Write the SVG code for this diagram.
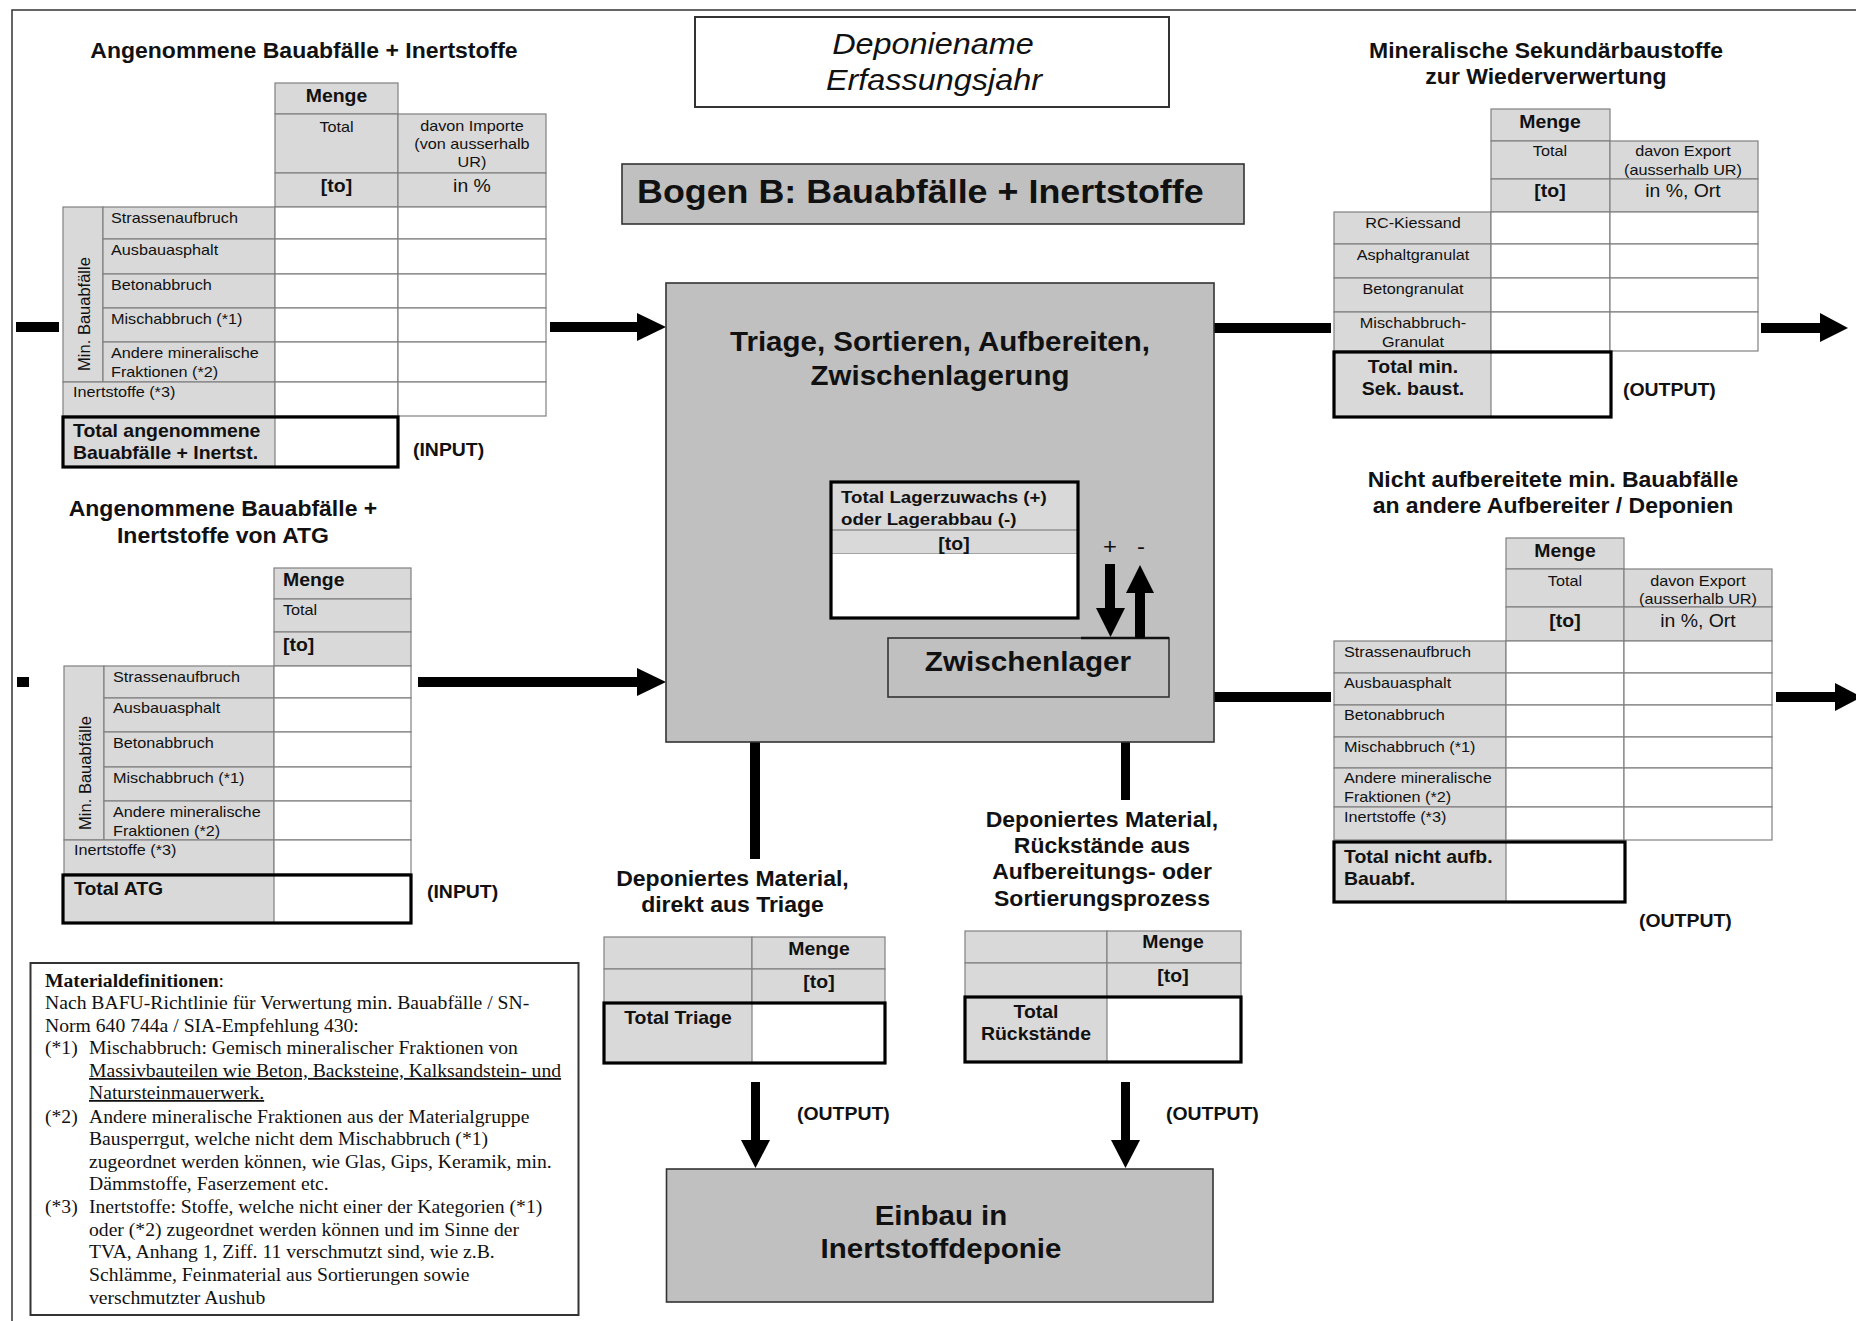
<svg xmlns="http://www.w3.org/2000/svg" width="1856" height="1321" viewBox="0 0 1856 1321">
  <style>
    text { font-family: "Liberation Sans", Arial, sans-serif; fill: #111; }
    text:not(.v) { transform-box: fill-box; transform-origin: 0 0; transform: scaleX(1.08); }
    text.c { text-anchor: middle; transform-origin: 50% 0; }
    .h { font-size: 21.3px; font-weight: bold; }
    .b { font-size: 18px; font-weight: bold; }
    .s { font-size: 15px; }
    .m { font-size: 18px; }
    .u { font-size: 20px; }
    .v { font-size: 16.5px; text-anchor: middle; }
    .big { font-size: 27.3px; font-weight: bold; }
    .serif { font-family: "Liberation Serif", "Times New Roman", serif; font-size: 18.2px; }
    .g { fill: #d9d9d9; stroke: #808080; stroke-width: 1.2; }
    .w { fill: #ffffff; stroke: #808080; stroke-width: 1.2; }
    .gn { fill: #d9d9d9; }
    .k { fill: none; stroke: #000; stroke-width: 3.2; }
    .proc { fill: #c0c0c0; stroke: #333; stroke-width: 1.6; }
    .flow { fill: #000; stroke: none; }
  </style>

  <!-- page frame -->
  <g id="frame" fill="none" stroke="#333" stroke-width="1.5">
    <path d="M12 1321 V10 H1856"/>
  </g>

  <!-- header -->
  <g id="title-box">
    <rect x="695" y="17" width="474" height="90" fill="#fff" stroke="#333" stroke-width="2"/>
    <text class="c" x="933" y="54" style="font-size:30px;font-style:italic">Deponiename</text>
    <text class="c" x="934" y="90" style="font-size:30px;font-style:italic">Erfassungsjahr</text>
  </g>
  <g id="sheet-title">
    <rect class="proc" x="622" y="164" width="622" height="60"/>
    <text x="637" y="203" style="font-size:33.2px;font-weight:bold">Bogen B: Bauabfälle + Inertstoffe</text>
  </g>

  <!-- connectors -->
  <g id="connectors" class="flow">
    <rect x="16" y="322" width="43" height="10"/>
    <rect x="550" y="322" width="90" height="10"/>
    <polygon points="637,313 666,327 637,341"/>
    <rect x="17" y="677" width="12" height="10"/>
    <rect x="418" y="677" width="222" height="10"/>
    <polygon points="637,668 666,682 637,696"/>
    <rect x="1214" y="323" width="117" height="10"/>
    <rect x="1761" y="323" width="61" height="10"/>
    <polygon points="1820,313 1848,328 1820,342"/>
    <rect x="1214" y="692" width="117" height="10"/>
    <rect x="1776" y="692" width="61" height="10"/>
    <polygon points="1835,683 1862,697 1835,711"/>
    <rect x="750" y="742" width="10" height="117"/>
    <rect x="1121" y="742" width="9" height="58"/>
    <rect x="751" y="1082" width="9" height="60"/>
    <polygon points="741,1140 770,1140 755.5,1168"/>
    <rect x="1121" y="1082" width="9" height="60"/>
    <polygon points="1111,1140 1140,1140 1125.5,1168"/>
  </g>

  <!-- accepted construction waste -->
  <g id="t-input">
    <text class="h c" x="304" y="58">Angenommene Bauabfälle + Inertstoffe</text>
    <rect class="g" x="275" y="83" width="123" height="31"/>
    <rect class="g" x="275" y="114" width="123" height="59"/>
    <rect class="g" x="398" y="114" width="148" height="59"/>
    <rect class="g" x="275" y="173" width="123" height="34"/>
    <rect class="g" x="398" y="173" width="148" height="34"/>
    <rect class="g" x="63" y="207" width="40" height="175"/>
    <rect class="g" x="103" y="207" width="172" height="32"/>
    <rect class="g" x="103" y="239" width="172" height="35"/>
    <rect class="g" x="103" y="274" width="172" height="34"/>
    <rect class="g" x="103" y="308" width="172" height="34"/>
    <rect class="g" x="103" y="342" width="172" height="40"/>
    <rect class="g" x="63" y="382" width="212" height="34"/>
    <rect class="w" x="275" y="207" width="123" height="32"/><rect class="w" x="398" y="207" width="148" height="32"/>
    <rect class="w" x="275" y="239" width="123" height="35"/><rect class="w" x="398" y="239" width="148" height="35"/>
    <rect class="w" x="275" y="274" width="123" height="34"/><rect class="w" x="398" y="274" width="148" height="34"/>
    <rect class="w" x="275" y="308" width="123" height="34"/><rect class="w" x="398" y="308" width="148" height="34"/>
    <rect class="w" x="275" y="342" width="123" height="40"/><rect class="w" x="398" y="342" width="148" height="40"/>
    <rect class="w" x="275" y="382" width="123" height="34"/><rect class="w" x="398" y="382" width="148" height="34"/>
    <rect class="gn" x="63" y="417" width="212" height="50"/>
    <rect class="w" x="275" y="417" width="123" height="50"/>
    <rect class="k" x="63" y="417" width="335" height="50"/>
    <text class="b c" x="336.5" y="102">Menge</text>
    <text class="s c" x="336.5" y="132">Total</text>
    <text class="s c" x="472" y="131">davon Importe</text>
    <text class="s c" x="472" y="149">(von ausserhalb</text>
    <text class="s c" x="472" y="167">UR)</text>
    <text class="b c" x="336.5" y="192">[to]</text>
    <text class="m c" x="472" y="192">in %</text>
    <text class="s" x="111" y="223">Strassenaufbruch</text>
    <text class="s" x="111" y="255">Ausbauasphalt</text>
    <text class="s" x="111" y="290">Betonabbruch</text>
    <text class="s" x="111" y="324">Mischabbruch (*1)</text>
    <text class="s" x="111" y="358">Andere mineralische</text>
    <text class="s" x="111" y="377">Fraktionen (*2)</text>
    <text class="s" x="73" y="397">Inertstoffe (*3)</text>
    <text class="v" transform="translate(90,314) rotate(-90)">Min. Bauabfälle</text>
    <text class="b" x="73" y="437">Total angenommene</text>
    <text class="b" x="73" y="459">Bauabfälle + Inertst.</text>
    <text class="b" x="413" y="456">(INPUT)</text>
  </g>

  <!-- accepted from ATG -->
  <g id="t-atg">
    <text class="h c" x="223" y="516">Angenommene Bauabfälle +</text>
    <text class="h c" x="223" y="543">Inertstoffe von ATG</text>
    <rect class="g" x="274" y="568" width="137" height="31"/>
    <rect class="g" x="274" y="599" width="137" height="33"/>
    <rect class="g" x="274" y="632" width="137" height="34"/>
    <rect class="g" x="64" y="666" width="40" height="174"/>
    <rect class="g" x="104" y="666" width="170" height="32"/>
    <rect class="g" x="104" y="698" width="170" height="34"/>
    <rect class="g" x="104" y="732" width="170" height="35"/>
    <rect class="g" x="104" y="767" width="170" height="34"/>
    <rect class="g" x="104" y="801" width="170" height="39"/>
    <rect class="g" x="64" y="840" width="210" height="34"/>
    <rect class="w" x="274" y="666" width="137" height="32"/>
    <rect class="w" x="274" y="698" width="137" height="34"/>
    <rect class="w" x="274" y="732" width="137" height="35"/>
    <rect class="w" x="274" y="767" width="137" height="34"/>
    <rect class="w" x="274" y="801" width="137" height="39"/>
    <rect class="w" x="274" y="840" width="137" height="34"/>
    <rect class="gn" x="63" y="875" width="211" height="48"/>
    <rect class="w" x="274" y="875" width="137" height="48"/>
    <rect class="k" x="63" y="875" width="348" height="48"/>
    <text class="b" x="283" y="586">Menge</text>
    <text class="s" x="283" y="615">Total</text>
    <text class="b" x="283" y="651">[to]</text>
    <text class="s" x="113" y="682">Strassenaufbruch</text>
    <text class="s" x="113" y="713">Ausbauasphalt</text>
    <text class="s" x="113" y="748">Betonabbruch</text>
    <text class="s" x="113" y="783">Mischabbruch (*1)</text>
    <text class="s" x="113" y="817">Andere mineralische</text>
    <text class="s" x="113" y="836">Fraktionen (*2)</text>
    <text class="s" x="74" y="855">Inertstoffe (*3)</text>
    <text class="v" transform="translate(91,773) rotate(-90)">Min. Bauabfälle</text>
    <text class="b" x="74" y="895">Total ATG</text>
    <text class="b" x="427" y="898">(INPUT)</text>
  </g>

  <!-- central process -->
  <g id="process">
    <rect class="proc" x="666" y="283" width="548" height="459"/>
    <text class="big c" x="940" y="351">Triage, Sortieren, Aufbereiten,</text>
    <text class="big c" x="940" y="385">Zwischenlagerung</text>
  </g>
  <g id="stock-change">
    <rect class="gn" x="831" y="482" width="247" height="48"/>
    <rect x="831" y="530" width="247" height="24" fill="#d9d9d9" stroke="#808080" stroke-width="1.2"/>
    <rect x="831" y="554" width="247" height="64" fill="#fff"/>
    <rect class="k" x="831" y="482" width="247" height="136"/>
    <text x="841" y="503" style="font-size:17.3px;font-weight:bold">Total Lagerzuwachs (+)</text>
    <text x="841" y="525" style="font-size:17.3px;font-weight:bold">oder Lagerabbau (-)</text>
    <text class="b c" x="954" y="550">[to]</text>
  </g>
  <g id="storage">
    <rect class="proc" x="888" y="638" width="281" height="59"/>
    <line x1="1081" y1="638" x2="1169" y2="638" stroke="#111" stroke-width="2.4"/>
    <text class="c" x="1028" y="671" style="font-size:27.5px;font-weight:bold">Zwischenlager</text>
  </g>
  <g id="storage-flows" class="flow">
    <rect x="1105" y="564" width="10" height="46"/>
    <polygon points="1096,608 1125,608 1110.5,637"/>
    <rect x="1135" y="591" width="10" height="47"/>
    <polygon points="1126,593 1154,593 1140,565"/>
    <text class="u c" x="1110" y="554" style="font-size:22px">+</text>
    <text class="u c" x="1141" y="554" style="font-size:22px">-</text>
  </g>

  <!-- secondary building materials -->
  <g id="t-secondary">
    <text class="h c" x="1546" y="58">Mineralische Sekundärbaustoffe</text>
    <text class="h c" x="1546" y="84">zur Wiederverwertung</text>
    <rect class="g" x="1491" y="109" width="119" height="32"/>
    <rect class="g" x="1491" y="141" width="119" height="38"/>
    <rect class="g" x="1610" y="141" width="148" height="38"/>
    <rect class="g" x="1491" y="179" width="119" height="33"/>
    <rect class="g" x="1610" y="179" width="148" height="33"/>
    <rect class="g" x="1334" y="212" width="157" height="32"/>
    <rect class="g" x="1334" y="244" width="157" height="34"/>
    <rect class="g" x="1334" y="278" width="157" height="34"/>
    <rect class="g" x="1334" y="312" width="157" height="39"/>
    <rect class="w" x="1491" y="212" width="119" height="32"/><rect class="w" x="1610" y="212" width="148" height="32"/>
    <rect class="w" x="1491" y="244" width="119" height="34"/><rect class="w" x="1610" y="244" width="148" height="34"/>
    <rect class="w" x="1491" y="278" width="119" height="34"/><rect class="w" x="1610" y="278" width="148" height="34"/>
    <rect class="w" x="1491" y="312" width="119" height="39"/><rect class="w" x="1610" y="312" width="148" height="39"/>
    <rect class="gn" x="1334" y="352" width="157" height="65"/>
    <rect class="w" x="1491" y="352" width="120" height="65"/>
    <rect class="k" x="1334" y="352" width="277" height="65"/>
    <text class="b c" x="1550" y="128">Menge</text>
    <text class="s c" x="1550" y="156">Total</text>
    <text class="s c" x="1683" y="156">davon Export</text>
    <text class="s c" x="1683" y="175">(ausserhalb UR)</text>
    <text class="b c" x="1550" y="197">[to]</text>
    <text class="m c" x="1683" y="197">in %, Ort</text>
    <text class="s c" x="1413" y="228">RC-Kiessand</text>
    <text class="s c" x="1413" y="260">Asphaltgranulat</text>
    <text class="s c" x="1413" y="294">Betongranulat</text>
    <text class="s c" x="1413" y="328">Mischabbruch-</text>
    <text class="s c" x="1413" y="347">Granulat</text>
    <text class="b c" x="1413" y="373">Total min.</text>
    <text class="b c" x="1413" y="395">Sek. baust.</text>
    <text class="b" x="1623" y="396">(OUTPUT)</text>
  </g>

  <!-- waste passed on unprocessed -->
  <g id="t-unprocessed">
    <text class="h c" x="1553" y="487">Nicht aufbereitete min. Bauabfälle</text>
    <text class="h c" x="1553" y="513">an andere Aufbereiter / Deponien</text>
    <rect class="g" x="1506" y="538" width="118" height="31"/>
    <rect class="g" x="1506" y="569" width="118" height="38"/>
    <rect class="g" x="1624" y="569" width="148" height="38"/>
    <rect class="g" x="1506" y="607" width="118" height="34"/>
    <rect class="g" x="1624" y="607" width="148" height="34"/>
    <rect class="g" x="1334" y="641" width="172" height="32"/>
    <rect class="g" x="1334" y="673" width="172" height="32"/>
    <rect class="g" x="1334" y="705" width="172" height="32"/>
    <rect class="g" x="1334" y="737" width="172" height="31"/>
    <rect class="g" x="1334" y="768" width="172" height="39"/>
    <rect class="g" x="1334" y="807" width="172" height="33"/>
    <rect class="w" x="1506" y="641" width="118" height="32"/><rect class="w" x="1624" y="641" width="148" height="32"/>
    <rect class="w" x="1506" y="673" width="118" height="32"/><rect class="w" x="1624" y="673" width="148" height="32"/>
    <rect class="w" x="1506" y="705" width="118" height="32"/><rect class="w" x="1624" y="705" width="148" height="32"/>
    <rect class="w" x="1506" y="737" width="118" height="31"/><rect class="w" x="1624" y="737" width="148" height="31"/>
    <rect class="w" x="1506" y="768" width="118" height="39"/><rect class="w" x="1624" y="768" width="148" height="39"/>
    <rect class="w" x="1506" y="807" width="118" height="33"/><rect class="w" x="1624" y="807" width="148" height="33"/>
    <rect class="gn" x="1334" y="842" width="172" height="60"/>
    <rect class="w" x="1506" y="842" width="119" height="60"/>
    <rect class="k" x="1334" y="842" width="291" height="60"/>
    <text class="b c" x="1565" y="557">Menge</text>
    <text class="s c" x="1565" y="586">Total</text>
    <text class="s c" x="1698" y="586">davon Export</text>
    <text class="s c" x="1698" y="604">(ausserhalb UR)</text>
    <text class="b c" x="1565" y="627">[to]</text>
    <text class="m c" x="1698" y="627">in %, Ort</text>
    <text class="s" x="1344" y="657">Strassenaufbruch</text>
    <text class="s" x="1344" y="688">Ausbauasphalt</text>
    <text class="s" x="1344" y="720">Betonabbruch</text>
    <text class="s" x="1344" y="752">Mischabbruch (*1)</text>
    <text class="s" x="1344" y="783">Andere mineralische</text>
    <text class="s" x="1344" y="802">Fraktionen (*2)</text>
    <text class="s" x="1344" y="822">Inertstoffe (*3)</text>
    <text class="b" x="1344" y="863">Total nicht aufb.</text>
    <text class="b" x="1344" y="885">Bauabf.</text>
    <text class="b" x="1639" y="927">(OUTPUT)</text>
  </g>

  <!-- deposited directly from sorting -->
  <g id="t-triage">
    <text class="h c" x="732.5" y="886">Deponiertes Material,</text>
    <text class="h c" x="732.5" y="912">direkt aus Triage</text>
    <rect class="g" x="604" y="937" width="148" height="32"/>
    <rect class="g" x="752" y="937" width="133" height="32"/>
    <rect class="g" x="604" y="969" width="148" height="34"/>
    <rect class="g" x="752" y="969" width="133" height="34"/>
    <rect class="gn" x="604" y="1003" width="148" height="60"/>
    <rect class="w" x="752" y="1003" width="133" height="60"/>
    <rect class="k" x="604" y="1003" width="281" height="60"/>
    <text class="b c" x="819" y="955">Menge</text>
    <text class="b c" x="819" y="988">[to]</text>
    <text class="b c" x="678" y="1024">Total Triage</text>
    <text class="b" x="797" y="1120">(OUTPUT)</text>
  </g>

  <!-- residues from processing -->
  <g id="t-residues">
    <text class="h c" x="1102" y="827">Deponiertes Material,</text>
    <text class="h c" x="1102" y="853">Rückstände aus</text>
    <text class="h c" x="1102" y="879">Aufbereitungs- oder</text>
    <text class="h c" x="1102" y="906">Sortierungsprozess</text>
    <rect class="g" x="965" y="931" width="142" height="32"/>
    <rect class="g" x="1107" y="931" width="134" height="32"/>
    <rect class="g" x="965" y="963" width="142" height="34"/>
    <rect class="g" x="1107" y="963" width="134" height="34"/>
    <rect class="gn" x="965" y="997" width="142" height="65"/>
    <rect class="w" x="1107" y="997" width="134" height="65"/>
    <rect class="k" x="965" y="997" width="276" height="65"/>
    <text class="b c" x="1173" y="948">Menge</text>
    <text class="b c" x="1173" y="982">[to]</text>
    <text class="b c" x="1036" y="1018">Total</text>
    <text class="b c" x="1036" y="1040">Rückstände</text>
    <text class="b" x="1166" y="1120">(OUTPUT)</text>
  </g>

  <!-- landfill -->
  <g id="landfill">
    <rect class="proc" x="666.5" y="1169" width="546.5" height="133"/>
    <text class="big c" x="941" y="1225">Einbau in</text>
    <text class="big c" x="941" y="1258">Inertstoffdeponie</text>
  </g>

  <!-- definitions -->
  <g id="definitions">
    <rect x="30.5" y="963" width="548" height="352" fill="#fff" stroke="#333" stroke-width="2"/>
    <text class="serif" x="45" y="987"><tspan font-weight="bold">Materialdefinitionen</tspan>:</text>
    <text class="serif" x="45" y="1009">Nach BAFU-Richtlinie für Verwertung min. Bauabfälle / SN-</text>
    <text class="serif" x="45" y="1032">Norm 640 744a / SIA-Empfehlung 430:</text>
    <text class="serif" x="45" y="1054">(*1)</text>
    <text class="serif" x="89" y="1054">Mischabbruch: Gemisch mineralischer Fraktionen von</text>
    <text class="serif" x="89" y="1077" text-decoration="underline">Massivbauteilen wie Beton, Backsteine, Kalksandstein- und</text>
    <text class="serif" x="89" y="1099" text-decoration="underline">Natursteinmauerwerk.</text>
    <text class="serif" x="45" y="1123">(*2)</text>
    <text class="serif" x="89" y="1123">Andere mineralische Fraktionen aus der Materialgruppe</text>
    <text class="serif" x="89" y="1145">Bausperrgut, welche nicht dem Mischabbruch (*1)</text>
    <text class="serif" x="89" y="1168">zugeordnet werden können, wie Glas, Gips, Keramik, min.</text>
    <text class="serif" x="89" y="1190">Dämmstoffe, Faserzement etc.</text>
    <text class="serif" x="45" y="1213">(*3)</text>
    <text class="serif" x="89" y="1213">Inertstoffe: Stoffe, welche nicht einer der Kategorien (*1)</text>
    <text class="serif" x="89" y="1236">oder (*2) zugeordnet werden können und im Sinne der</text>
    <text class="serif" x="89" y="1258">TVA, Anhang 1, Ziff. 11 verschmutzt sind, wie z.B.</text>
    <text class="serif" x="89" y="1281">Schlämme, Feinmaterial aus Sortierungen sowie</text>
    <text class="serif" x="89" y="1304">verschmutzter Aushub</text>
  </g>
</svg>
